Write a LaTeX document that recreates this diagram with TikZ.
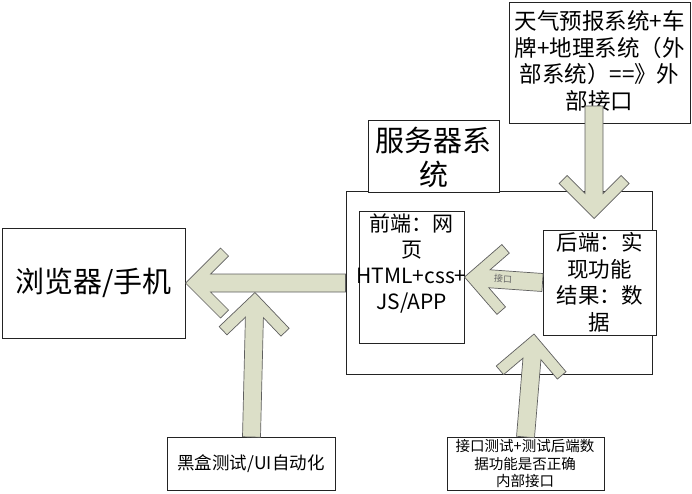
\documentclass[tikz,border=0pt]{standalone}
\usepackage{fontspec}
\setmainfont{Noto Sans CJK SC}
\usetikzlibrary{calc}
\definecolor{arrfill}{RGB}{220,223,200}
\definecolor{arredge}{RGB}{95,95,95}
\definecolor{boxedge}{RGB}{35,35,35}
\newcommand\blockarr[2]{%
 \filldraw[blockarrow] (#2)
 -- ($(#2)!35pt!(#1)!35pt!90:(#1)$)
 -- ($(#2)!43pt!(#1)!27pt!90:(#1)$)
 -- ($(#2)!25pt!(#1)!9pt!90:(#1)$)
 -- ($(#1)!9pt!-90:(#2)$)
 -- ($(#1)!9pt!90:(#2)$)
 -- ($(#2)!25pt!(#1)!9pt!-90:(#1)$)
 -- ($(#2)!43pt!(#1)!27pt!-90:(#1)$)
 -- ($(#2)!35pt!(#1)!35pt!-90:(#1)$)
 -- cycle;}
\begin{document}
\begin{tikzpicture}[x=1pt,y=-1pt,
  box/.style={draw=boxedge,line width=1pt,fill=white,inner sep=0pt},
  txt/.style={inner sep=0pt,align=center,text=black},
  blockarrow/.style={fill=arrfill,draw=arredge,line width=0.7pt,line join=miter}]
\useasboundingbox (0,0) rectangle (692,494);
% boxes
\node[box,minimum width=306pt,minimum height=182pt] (server) at (499,283) {};
\node[box,minimum width=131pt,minimum height=72pt] (title) at (433.5,157) {};
\node[box,minimum width=105pt,minimum height=132pt] (front) at (411.5,277) {};
\node[box,minimum width=113pt,minimum height=105pt] (back) at (599.5,282.5) {};
\node[box,minimum width=183pt,minimum height=110pt] (browser) at (93.5,283) {};
\node[box,minimum width=168pt,minimum height=53pt] (bl) at (251,463.5) {};
\node[box,minimum width=157pt,minimum height=53pt] (br) at (525.5,463.5) {};
\node[box,minimum width=181pt,minimum height=121pt] (ext) at (599.5,63.5) {};
% texts
\node[txt,font=\fontsize{22.5}{26.5}\selectfont] (extT) at (599.5,61) {天气预报系统+车\\牌+地理系统（外\\部系统）==》外\\部接口};
\node[txt,font=\fontsize{29}{34}\selectfont] (titleT) at (433.5,157) {服务器系\\统};
\node[txt,font=\fontsize{21}{25.7}\selectfont] (frontT) at (411.5,263.5) {前端：网\\页\\HTML+css+\\JS/APP};
\node[txt,font=\fontsize{21.5}{26.5}\selectfont] (backT) at (599.5,282.5) {后端：实\\现功能\\结果：数\\据};
\node[txt,font=\fontsize{29}{34}\selectfont] (browserT) at (93.5,283) {浏览器/手机};
\node[txt,font=\fontsize{17.5}{20}\selectfont] (blT) at (251,463.5) {黑盒测试/UI自动化};
\node[txt,font=\fontsize{14.5}{17.5}\selectfont] (brT) at (525,463.5) {接口测试+测试后端数\\据功能是否正确\\内部接口};
% arrows
\coordinate (tS) at (594,106);
\coordinate (tT) at (594,218.5);
\coordinate (uS) at (251.5,437);
\coordinate (uT) at (255,292.5);
\coordinate (rS) at (525.5,437);
\coordinate (rT) at (534,334);
\blockarr{tS}{tT}
\blockarr{server.west}{browser.east}
\blockarr{uS}{uT}
\blockarr{back.west}{front.east}
\blockarr{rS}{rT}
\node[inner sep=0pt,font=\fontsize{9}{9}\selectfont,text=black!60,rotate=-4] (jk) at (503,279) {接口};
\end{tikzpicture}
\end{document}
